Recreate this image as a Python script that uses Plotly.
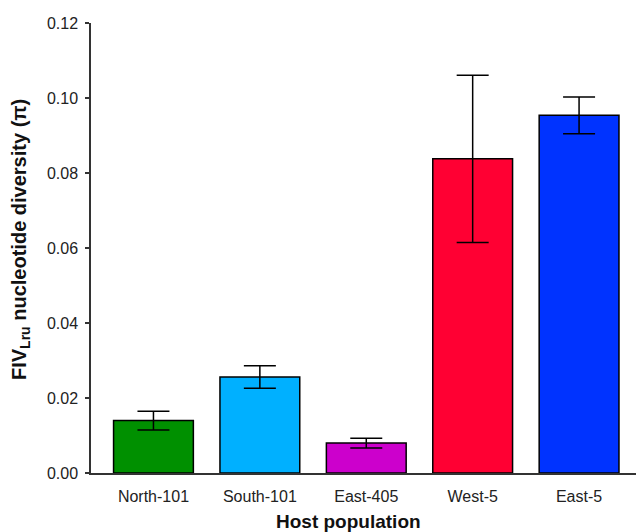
import plotly.graph_objects as go

categories = ["North-101", "South-101", "East-405", "West-5", "East-5"]
values = [0.0140, 0.0256, 0.0080, 0.0838, 0.0954]
errors = [0.0025, 0.0030, 0.0013, 0.0223, 0.0049]
colors = ["#009000", "#00B0FF", "#CC00CC", "#FF0033", "#0033FF"]
y_ticks = [0.00, 0.02, 0.04, 0.06, 0.08, 0.10, 0.12]

font_family = "Liberation Sans, Arial, sans-serif"

W, H = 636, 532
L, R, T, B = 91, 0, 23, 59

fig = go.Figure()
fig.add_trace(go.Bar(
    x=list(range(len(categories))),
    y=values,
    width=0.75,
    marker=dict(color=colors, line=dict(color="black", width=1.5)),
    error_y=dict(type="data", array=errors, visible=True, color="black",
                 thickness=1.5, width=16),
))

fig.update_layout(
    width=W, height=H,
    margin=dict(l=L, r=R, t=T, b=B, autoexpand=False),
    paper_bgcolor="white", plot_bgcolor="white",
    font=dict(family=font_family, color="#222222", size=16),
    showlegend=False,
    xaxis=dict(
        range=[-0.587, 4.535],
        tickmode="array",
        tickvals=list(range(len(categories))),
        ticktext=categories,
        showline=True, linecolor="#333333", linewidth=1.5,
        ticks="", showgrid=False, zeroline=False,
        ticklabelstandoff=8,
        tickfont=dict(size=16, color="#222222"),
    ),
    yaxis=dict(
        range=[0, 0.12],
        tickmode="array",
        tickvals=y_ticks,
        ticktext=[f"{v:.2f}" for v in y_ticks],
        showline=True, linecolor="#333333", linewidth=1.5,
        ticks="outside", ticklen=4, tickwidth=1.5, tickcolor="#333333",
        showgrid=False, zeroline=False,
        ticklabelstandoff=4,
        tickfont=dict(size=16, color="#222222"),
    ),
    annotations=[
        dict(text="<b>Host population</b>", xref="paper", yref="paper",
             x=(348 - L) / (W - L - R), y=-(521 - (H - B)) / (H - T - B),
             xanchor="center", yanchor="middle", showarrow=False,
             font=dict(size=19, color="#111111")),
        dict(text="<b>FIV<sub>Lru</sub> nucleotide diversity (π)</b>", xref="paper", yref="paper",
             x=-(L - 20) / (W - L - R), y=((H - B) - 240) / (H - T - B),
             xanchor="center", yanchor="middle", showarrow=False, textangle=-90,
             font=dict(size=20, color="#111111")),
    ],
)

fig.write_html("out.html", config={"displayModeBar": False},
               post_script="document.body.style.margin='0';")
